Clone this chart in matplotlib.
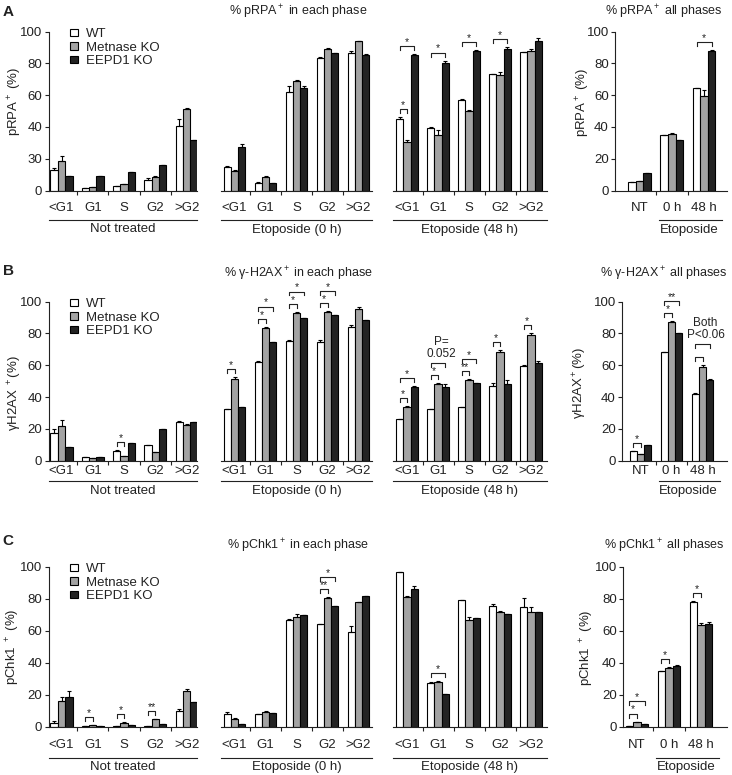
import numpy as np
import matplotlib.pyplot as plt
import matplotlib.transforms as mtransforms
from matplotlib.patches import Patch

plt.rcParams['font.family'] = ['Liberation Sans', 'DejaVu Sans']
plt.rcParams['mathtext.fontset'] = 'custom'
plt.rcParams['mathtext.rm'] = 'Liberation Sans'
plt.rcParams['mathtext.it'] = 'Liberation Sans:italic'
plt.rcParams['mathtext.bf'] = 'Liberation Sans:bold'
plt.rcParams['mathtext.default'] = 'regular'
plt.rcParams['text.color'] = '#222222'
plt.rcParams['axes.edgecolor'] = '#222222'
plt.rcParams['xtick.color'] = '#222222'
plt.rcParams['ytick.color'] = '#222222'

W, H = 732, 775

phases = ['<G1', 'G1', 'S', 'G2', '>G2']
conds = ['NT', '0 h', '48 h']
strains = ['WT', 'Metnase KO', 'EEPD1 KO']
colors = ['white', '#a3a3a3', '#232323']

# ---- pRPA (A) ---- rows: WT, Metnase KO, EEPD1 KO
rpa_nt = [[13, 1.5, 2.9, 6.7, 40.7], [18.7, 1.9, 3.8, 8.8, 51.4], [9.4, 9.4, 11.5, 15.9, 31.9]]
rpa_nt_err = [[1, 0, 0, 1.1, 4], [2.7, 0, 0.4, 0.4, 0.3], [0, 0, 0, 0, 0]]
rpa_0h = [[14.6, 4.6, 62, 83.3, 86.5], [12.5, 8.8, 68.8, 89, 94.2], [27.5, 5, 64.6, 86.5, 85]]
rpa_0h_err = [[0.8, 0.6, 3.6, 0.4, 1.5], [0.6, 0.4, 0.6, 0.6, 0], [1.6, 0, 1, 0, 1]]
rpa_48h = [[45.2, 39.6, 56.7, 73.3, 87.1], [30.6, 34.8, 50, 72.9, 87.9], [85.4, 80.2, 87.5, 89, 94.2]]
rpa_48h_err = [[0.8, 0.4, 0.8, 0, 0], [1, 3.1, 0.6, 1.9, 1.1], [0.4, 1.5, 0.8, 1.4, 1.6]]
rpa_all = [[5.2, 34.6, 64.2], [6.2, 35.8, 59.4], [10.8, 31.7, 87.9]]
rpa_all_err = [[0, 0.4, 0.4], [0, 0.4, 3.7], [0, 0, 0.6]]

# ---- gamma-H2AX (B) ----
h2ax_nt = [[17.6, 2.5, 6.1, 9.6, 24.1], [21.8, 1.9, 2.9, 5.2, 22.4], [8.4, 2.5, 10.9, 20.1, 24.5]]
h2ax_nt_err = [[2.1, 0, 0.4, 0.4, 1], [3.8, 0, 0, 0, 0.4], [0, 0, 0, 0, 0]]
h2ax_0h = [[32.7, 62.3, 75.3, 74.4, 83.9], [51.2, 83.2, 93.1, 93.5, 95.6], [33.5, 74.8, 89.5, 91.8, 88.5]]
h2ax_0h_err = [[0, 0.4, 0.4, 1.5, 1.7], [1.2, 1, 0.6, 0.4, 0.8], [0, 0, 0.4, 0, 0]]
h2ax_48h = [[26, 32.3, 33.5, 47.2, 59.5], [33.8, 48, 50.7, 68.6, 79], [46.3, 46.3, 48.6, 48.2, 61.2]]
h2ax_48h_err = [[0, 0.4, 0, 1.5, 0.6], [0.6, 0.8, 0.6, 1, 1.5], [0.8, 1.7, 0, 2.5, 1.3]]
h2ax_all = [[6.3, 68.3, 42], [4.5, 87.3, 59], [10, 80.6, 51]]
h2ax_all_err = [[0, 0, 0.4], [0, 0.6, 1.5], [0, 0, 0.4]]

# ---- pChk1 (C) ----
chk1_nt = [[2.1, 0.2, 0.4, 0.6, 9.8], [16, 0.8, 2.5, 4.8, 22.3], [18.3, 0.4, 0.8, 1.5, 15.2]]
chk1_nt_err = [[1.7, 0, 0, 0, 1.2], [2.7, 0, 0.3, 0.2, 1], [4, 0, 0, 0, 0.4]]
chk1_0h = [[7.7, 7.7, 66.7, 64, 59.4], [4.8, 9.4, 68.3, 80.6, 77.7], [1.5, 8.8, 69.8, 75.4, 81.9]]
chk1_0h_err = [[1.2, 0, 0.4, 0, 3.5], [0.4, 0.4, 1.9, 0.4, 0], [0, 0, 0, 0, 0]]
chk1_48h = [[96.5, 27.5, 79.2, 75.6, 74.8], [81.3, 28.1, 66.7, 71.9, 71.9], [85.8, 20.2, 67.7, 70.4, 71.7]]
chk1_48h_err = [[0, 0.4, 0.3, 1.3, 5.4], [0.4, 0.4, 2, 0.3, 3.1], [2.3, 0, 0.4, 0.3, 0]]
chk1_all = [[0.6, 35.1, 78], [2.9, 36.8, 63.4], [1.7, 37.9, 64.4]]
chk1_all_err = [[0, 0, 0.4], [0.3, 0.4, 1.2], [0, 0.4, 1.2]]

# significance: (group, compared strain, label), always against WT
rpa_48h_sig = [(0, 1, '*'), (0, 2, '*'), (1, 2, '*'), (2, 2, '*'), (3, 2, '*')]
rpa_all_sig = [(2, 2, '*')]
h2ax_nt_sig = [(2, 1, '*')]
h2ax_0h_sig = [(0, 1, '*'), (1, 1, '*'), (1, 2, '*'), (2, 1, '*'), (2, 2, '*'), (3, 1, '*'), (3, 2, '*')]
h2ax_48h_sig = [(0, 1, '*'), (0, 2, '*'), (1, 1, '*'), (1, 2, 'P=\n0.052'), (2, 1, '**'), (2, 2, '*'),
                (3, 1, '*'), (4, 1, '*')]
h2ax_all_sig = [(0, 1, '*'), (1, 1, '*'), (1, 2, '**'), (2, 1, ''), (2, 2, 'Both\nP<0.06')]
chk1_nt_sig = [(1, 1, '*'), (2, 1, '*'), (3, 1, '**')]
chk1_0h_sig = [(3, 1, '**'), (3, 2, '*')]
chk1_48h_sig = [(1, 2, '*')]
chk1_all_sig = [(0, 1, '*'), (0, 2, '*'), (1, 1, '*'), (2, 1, '*')]

fig = plt.figure(figsize=(W / 100, H / 100), dpi=100)


def fx(x):
    return x / W


def fy(y):
    return 1 - y / H


def make_ax(left, right, top, zero, c0, sp):
    ax = fig.add_axes([fx(left), fy(zero), (right - left) / W, (zero - top) / H])
    ax.set_xlim((left - c0) / sp, (right - c0) / sp)
    ax.set_ylim(0, 100)
    for s in ['top', 'right']:
        ax.spines[s].set_visible(False)
    ax.spines['bottom'].set_linewidth(0.8)
    ax.spines['left'].set_linewidth(0.8)
    ax.patch.set_alpha(0)
    return ax


def draw(ax, vals, errs, sig, bw=0.235):
    n = len(vals[0])
    x = np.arange(n)
    for k in range(3):
        xs = x + (k - 1) * bw
        ax.bar(xs, vals[k], bw, color=colors[k], edgecolor='black', linewidth=0.8, zorder=2)
        ax.errorbar(xs, vals[k], yerr=[np.zeros(n), errs[k]], fmt='none', ecolor='black',
                    elinewidth=0.8, capsize=1.6, capthick=0.8, zorder=3)
    levels = {}
    for g, k, lab in sig:
        x1 = g - bw
        x2 = g + (k - 1) * bw
        top = max(vals[j][g] + errs[j][g] for j in range(k + 1))
        y = top + 5
        if g in levels:
            y = max(y, levels[g] + 7.7)
        levels[g] = y
        ax.plot([x1, x1, x2, x2], [y - 2.5, y, y, y - 2.5], color='#222222', lw=0.8,
                clip_on=False, zorder=4)
        if '*' in lab:
            ax.text((x1 + x2) / 2, y + 0.7, lab, ha='center', va='baseline', fontsize=7.5,
                    clip_on=False)
        elif lab:
            ax.text((x1 + x2) / 2 + 0.1, y + 2, lab, ha='center', va='bottom', fontsize=8.5,
                    linespacing=1.0, clip_on=False)


def xaxis(ax, labels, zero, lab_pad, line_y, grp_y, group, span=None, grp_x=None):
    n = len(labels)
    ax.set_xticks(np.arange(n - 1) + 0.5)
    ax.set_xticklabels([])
    ax.set_xticks(np.arange(n), minor=True)
    ax.set_xticklabels(labels, minor=True)
    ax.tick_params(axis='x', which='major', length=3, width=0.8, direction='out')
    ax.tick_params(axis='x', which='minor', length=0, pad=lab_pad, labelsize=9.5)
    tr = mtransforms.blended_transform_factory(ax.transData, fig.transFigure)
    lo, hi = ax.get_xlim()
    if span is None:
        span = (lo, hi)
    ax.plot(span, [fy(zero + line_y)] * 2, transform=tr, color='#222222', lw=0.8, clip_on=False)
    if grp_x is None:
        grp_x = (lo + hi) / 2
    ax.text(grp_x, fy(zero + grp_y), group, transform=tr, ha='center', va='center', fontsize=9.5)


def yaxis(ax, ticklabels=None, visible=True):
    if not visible:
        ax.spines['left'].set_visible(False)
        ax.set_yticks([])
        return
    ax.set_yticks([0, 20, 40, 60, 80, 100])
    if ticklabels is not None:
        ax.set_yticklabels(ticklabels)
    ax.tick_params(axis='y', length=3, width=0.8, direction='out', labelsize=9.5, pad=1.5)


# layout of each row: label offsets below the x axis in pixels
rows = [
    dict(letter='A', top=31.5, zero=190.5, pad=8.5, line=29.5, grp=39, letter_y=12.5,
         title_y=12, col4=(615, 727, 639.5, 32.3),
         data=(rpa_nt, rpa_0h, rpa_48h, rpa_all), errs=(rpa_nt_err, rpa_0h_err, rpa_48h_err, rpa_all_err),
         sig=([], [], rpa_48h_sig, rpa_all_sig),
         titles=('% $pRPA^+$ in each phase', '% $pRPA^+$ all phases'),
         ylab=('$pRPA^+$ (%)', '$pRPA^+$ (%)'), ylab_pos=((15, 101), (583, 102)),
         yticks=['0', '30', '40', '60', '80', '100'], legend_y=28),
    dict(letter='B', top=301.7, zero=460.7, pad=3, line=20, grp=30, letter_y=271,
         title_y=273.5, col4=(622, 727, 640.5, 31),
         data=(h2ax_nt, h2ax_0h, h2ax_48h, h2ax_all),
         errs=(h2ax_nt_err, h2ax_0h_err, h2ax_48h_err, h2ax_all_err),
         sig=(h2ax_nt_sig, h2ax_0h_sig, h2ax_48h_sig, h2ax_all_sig),
         titles=('% γ-$H2AX^+$ in each phase', '% γ-$H2AX^+$ all phases'),
         ylab=('γH2AX $^+$(%)', 'γ$H2AX^+$(%)'), ylab_pos=((15, 393), (580, 383)),
         yticks=None, legend_y=298),
    dict(letter='C', top=566.7, zero=726.7, pad=8.5, line=31, grp=40.5, letter_y=541,
         title_y=546, col4=(623, 727, 637, 32),
         data=(chk1_nt, chk1_0h, chk1_48h, chk1_all),
         errs=(chk1_nt_err, chk1_0h_err, chk1_48h_err, chk1_all_err),
         sig=(chk1_nt_sig, chk1_0h_sig, chk1_48h_sig, chk1_all_sig),
         titles=('% $pChk1^+$ in each phase', '% $pChk1^+$ all phases'),
         ylab=('pChk1 $^+$ (%)', 'pChk1 $^+$ (%)'), ylab_pos=((13, 647), (587, 648)),
         yticks=None, legend_y=563),
]

cols = [(48.5, 197, 61.5, 31.3), (221, 372, 234.5, 31), (393, 546.5, 407, 31)]
groups = ['Not treated', 'Etoposide (0 h)', 'Etoposide (48 h)']

for r in rows:
    for i in range(3):
        left, right, c0, sp = cols[i]
        ax = make_ax(left, right, r['top'], r['zero'], c0, sp)
        draw(ax, r['data'][i], r['errs'][i], r['sig'][i])
        xaxis(ax, phases, r['zero'], r['pad'], r['line'], r['grp'], groups[i])
        if i == 0:
            yaxis(ax, r['yticks'])
            handles = [Patch(facecolor=colors[k], edgecolor='black', linewidth=0.8) for k in range(3)]
            ax.legend(handles, strains, loc='upper left', bbox_to_anchor=(fx(69.5), fy(r['legend_y'])),
                      bbox_transform=fig.transFigure, frameon=False, fontsize=9.5,
                      handlelength=0.65, handleheight=0.5, handletextpad=0.6,
                      labelspacing=0.12, borderpad=0, borderaxespad=0)
        else:
            yaxis(ax, visible=False)
    left, right, c0, sp = r['col4']
    ax = make_ax(left, right, r['top'], r['zero'], c0, sp)
    draw(ax, r['data'][3], r['errs'][3], r['sig'][3])
    xaxis(ax, conds, r['zero'], r['pad'], r['line'], r['grp'], 'Etoposide',
          span=(0.6, 2.55), grp_x=1.55)
    yaxis(ax)

    fig.text(fx(8), fy(r['letter_y']), r['letter'], ha='center', va='center',
             fontsize=11, fontweight='bold')
    fig.text(fx(298), fy(r['title_y']), r['titles'][0], ha='center', va='center', fontsize=9)
    fig.text(fx(664), fy(r['title_y']), r['titles'][1], ha='center', va='center', fontsize=9)
    for (lx, ly), lab in zip(r['ylab_pos'], r['ylab']):
        fig.text(fx(lx), fy(ly), lab, rotation=90, ha='center', va='center', fontsize=9.5)

fig.savefig('out.png', dpi=100)
